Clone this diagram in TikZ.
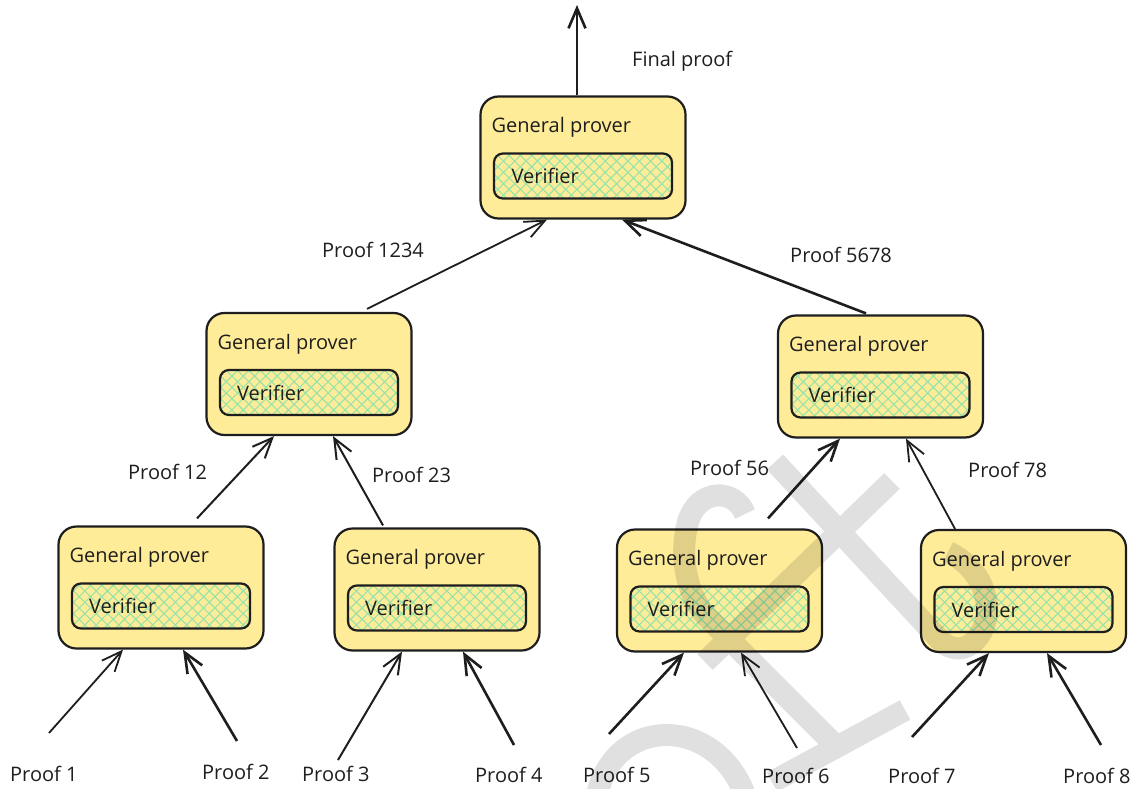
\documentclass[tikz,border=0pt]{standalone}
\usepackage{fontspec}
\setmainfont{Open Sans}
\usetikzlibrary{arrows.meta,patterns.meta,calc}

\definecolor{boxyellow}{HTML}{FFEC99}
\definecolor{hatchgreen}{RGB}{150,228,168}
\definecolor{ink}{HTML}{1E1E1E}

\tikzset{
  prover/.style={draw=ink, line width=2.2pt, fill=boxyellow, rounded corners=18pt,
    minimum width=205pt, minimum height=122pt, inner sep=0pt},
  verifier/.style={draw=ink, line width=2.2pt, rounded corners=9pt,
    minimum width=178pt, minimum height=45pt, inner sep=0pt,
    preaction={fill=boxyellow},
    pattern={Hatch[angle=45,distance=8pt,line width=1.1pt]}, pattern color=hatchgreen},
  lbl/.style={anchor=west, inner sep=0pt, font=\fontsize{20}{24}\selectfont, text=ink},
  arr/.style={draw=ink, line width=2pt, -{Straight Barb[length=20pt,width=17pt]}},
  wmark/.style={draw=black, line width=22pt, line cap=butt}
}

% one prover box: outer box, inner verifier box and their captions
\newcommand{\gpbox}[2]{%
  \node[prover] (#1) at (#2) {};
  \node[verifier] (#1v) at ([yshift=-18.5pt]#1.center) {};
  \node[lbl] (#1g) at ([xshift=12pt,yshift=-32pt]#1.north west) {General prover};
  \node[lbl] (#1t) at ([xshift=18pt]#1v.west) {Verifier};
}

\begin{document}
\begin{tikzpicture}[x=1pt,y=-1pt]
  \fill[white] (0,0) rectangle (1148,789);
  \useasboundingbox (0,0) rectangle (1148,789);

  % prover tree
  \gpbox{T}{583,157.5}
  \gpbox{ML}{309,374}
  \gpbox{MR}{880.5,376.5}
  \gpbox{BA}{161,587.5}
  \gpbox{BB}{437,589.5}
  \gpbox{BC}{719.5,590.5}
  \gpbox{BD}{1023.5,591}

  % proof labels
  \node[lbl] (lfin) at (632,61) {Final proof};
  \node[lbl] (l1234) at (322,250) {Proof 1234};
  \node[lbl] (l5678) at (790,255) {Proof 5678};
  \node[lbl] (l12) at (128,472) {Proof 12};
  \node[lbl] (l23) at (372,475) {Proof 23};
  \node[lbl] (l56) at (690,468) {Proof 56};
  \node[lbl] (l78) at (968,470) {Proof 78};
  \node[lbl] (l1) at (10,774) {Proof 1};
  \node[lbl] (l2) at (202,772) {Proof 2};
  \node[lbl] (l3) at (302,774) {Proof 3};
  \node[lbl] (l4) at (475,775) {Proof 4};
  \node[lbl] (l5) at (583,775) {Proof 5};
  \node[lbl] (l6) at (762,776) {Proof 6};
  \node[lbl] (l7) at (888,776) {Proof 7};
  \node[lbl] (l8) at (1063,776) {Proof 8};

  % free tails of the input arrows and the output end
  \coordinate (out) at (577,5);
  \coordinate (s1) at (49,733);
  \coordinate (s2) at (237,741);
  \coordinate (s3) at (338,760);
  \coordinate (s4) at (514,745);
  \coordinate (s5) at (609,734);
  \coordinate (s6) at (797,748);
  \coordinate (s7) at (912,737);
  \coordinate (s8) at (1101,745);

  % arrows
  \draw[arr, line width=2.6pt] ([xshift=-6pt]T.north) -- (out);
  \draw[arr, line width=1.8pt] ([xshift=58pt,yshift=3pt]ML.north) -- ([xshift=-36pt]T.south);
  \draw[arr, line width=2.6pt] ([xshift=-14.5pt,yshift=1pt]MR.north) -- ([xshift=39pt]T.south);
  \draw[arr] ([xshift=36pt,yshift=7pt]BA.north) -- ([xshift=-35pt]ML.south);
  \draw[arr] ([xshift=-54pt,yshift=2pt]BB.north) -- ([xshift=24pt]ML.south);
  \draw[arr, line width=2.6pt] ([xshift=48.5pt,yshift=10pt]BC.north) -- ([xshift=-40.5pt]MR.south);
  \draw[arr, line width=1.8pt] ([xshift=-68.5pt]BD.north) -- ([xshift=25.5pt]MR.south);
  \draw[arr, line width=1.8pt] (s1) -- ([xshift=-38pt]BA.south);
  \draw[arr, line width=2.6pt] (s2) -- ([xshift=22pt]BA.south);
  \draw[arr] (s3) -- ([xshift=-35pt]BB.south);
  \draw[arr, line width=2.6pt] (s4) -- ([xshift=26pt]BB.south);
  \draw[arr, line width=2.6pt] (s5) -- ([xshift=-35.5pt]BC.south);
  \draw[arr, line width=1.8pt] (s6) -- ([xshift=21.5pt]BC.south);
  \draw[arr, line width=2.6pt] (s7) -- ([xshift=-34.5pt]BD.south);
  \draw[arr, line width=2.6pt] (s8) -- ([xshift=23.5pt]BD.south);

  % faint lettering laid over the lower right
  \begin{scope}[transparency group, opacity=0.12]
    \draw[wmark] (745,514) .. controls (735,488) and (698,488) .. (688,522)
      .. controls (680,552) and (684,590) .. (706,616) -- (838,748);
    \draw[wmark] (772,782) -- (905,710);
    \draw[wmark] (892,481) -- (705,662);
    \draw[wmark] (775,462) -- (940,640)
      .. controls (965,665) and (995,630) .. (985,595)
      .. controls (980,575) and (965,560) .. (948,552);
    \draw[wmark] (597,795) .. controls (615,715) and (715,715) .. (745,795);
  \end{scope}
\end{tikzpicture}
\end{document}
